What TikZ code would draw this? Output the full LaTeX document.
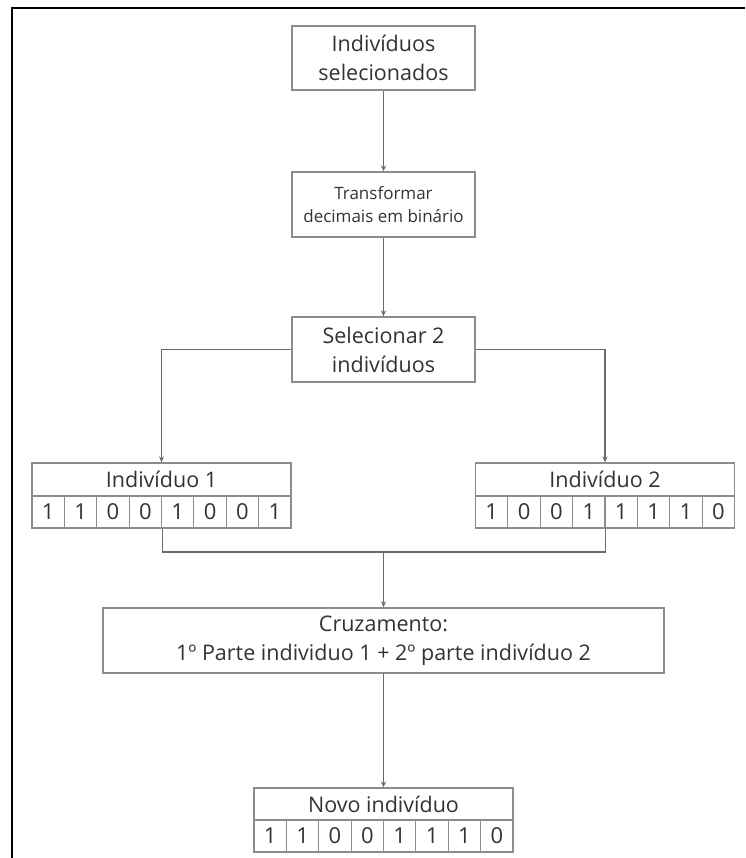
\documentclass[tikz,border=0pt]{standalone}
\usepackage{fontspec}
\setmainfont{Open Sans}
\usetikzlibrary{arrows.meta}
\definecolor{boxline}{HTML}{8C8C8C}
\definecolor{linkline}{HTML}{6A6A6A}
\definecolor{txt}{HTML}{333333}
\tikzset{
  stepbox/.style={draw=boxline, line width=1.3pt, fill=white, inner sep=0pt,
    align=center, text=txt, font=\fontsize{21.5}{29}\selectfont},
  bitcell/.style={draw=boxline, line width=1.1pt, inner sep=0pt,
    minimum width=32.375pt, minimum height=32pt, text=txt,
    font=\fontsize{22}{25}\selectfont},
  link/.style={draw=linkline, line width=1.1pt},
  arrowlink/.style={link, -{Stealth[length=6pt, width=5pt]}}
}
\begin{document}
\begin{tikzpicture}[x=1pt, y=-1pt]
\useasboundingbox (0,0) rectangle (745,858);
\fill[white] (0,0) rectangle (745,858);

% outer frame (left and top edges)
\draw[black, line width=2pt] (12,858) -- (12,8) -- (745,8);

% main flow boxes
\node[stepbox, minimum width=183pt, minimum height=64pt] (sel) at (383.5,58)
  {Indivíduos\\selecionados};
\node[stepbox, minimum width=183pt, minimum height=65pt,
  font=\fontsize{17}{23}\selectfont] (bin) at (383.5,204.5)
  {Transformar\\decimais em binário};
\node[stepbox, minimum width=183pt, minimum height=65pt] (two) at (383.5,349.5)
  {Selecionar 2\\indivíduos};

% individual 1
\node[stepbox, minimum width=259pt, minimum height=33pt] (h1) at (161.5,479.5)
  {Indivíduo 1};
\foreach \b [count=\i] in {1,1,0,0,1,0,0,1}
  \node[bitcell] (p\i) at ({32+(\i-0.5)*32.375},512) {\b};

% individual 2
\node[stepbox, minimum width=259pt, minimum height=33pt] (h2) at (605,479.5)
  {Indivíduo 2};
\foreach \b [count=\i] in {1,0,0,1,1,1,1,0}
  \node[bitcell] (q\i) at ({475.5+(\i-0.5)*32.375},512) {\b};

% crossover box
\node[stepbox, minimum width=561pt, minimum height=65pt] (cross) at (383.5,640.5)
  {Cruzamento:\\1º Parte individuo 1 + 2º parte indivíduo 2};

% new individual
\node[stepbox, minimum width=259pt, minimum height=32pt] (hn) at (383.5,804)
  {Novo indivíduo};
\foreach \b [count=\i] in {1,1,0,0,1,1,1,0}
  \node[bitcell] (n\i) at ({254+(\i-0.5)*32.375},836) {\b};

% connectors
\draw[arrowlink] (sel.south) -- (bin.north);
\draw[arrowlink] (bin.south) -- (two.north);
\draw[arrowlink] (two.west) -| (h1.north);
\draw[arrowlink] (two.east) -| (h2.north);
\coordinate (join) at (383.5,552);
\draw[link] (p4.south east) |- (join);
\draw[link] (q4.south east) |- (join);
\draw[arrowlink] (join) -- (cross.north);
\draw[arrowlink] (cross.south) -- (hn.north);
\end{tikzpicture}
\end{document}
